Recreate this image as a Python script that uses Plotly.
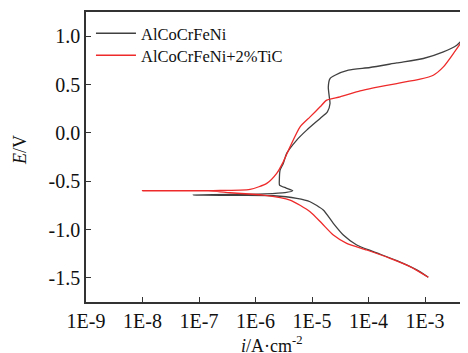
import plotly.graph_objects as go

# AlCoCrFeNi polarization curve (current density A/cm^2, potential V)
black_i = [1.14e-3, 7.13e-4, 3.16e-4, 1.22e-4, 6.18e-5, 3.58e-5, 2.38e-5, 1.58e-5, 9.23e-6, 5.36e-6,
           2.07e-6, 5.32e-7, 7.92e-8, 3.54e-7, 1.47e-6, 3.33e-6, 4.55e-6, 3.47e-6, 2.66e-6, 2.64e-6,
           2.72e-6, 3.10e-6, 3.56e-6, 5.36e-6, 8.05e-6, 1.39e-5, 1.87e-5, 2.08e-5, 2.02e-5, 1.94e-5,
           2.08e-5, 2.55e-5, 4.40e-5, 1.06e-4, 3.16e-4, 9.33e-4, 2.11e-3, 3.64e-3, 5.10e-3]
black_E = [-1.494, -1.418, -1.322, -1.229, -1.160, -1.057, -0.936, -0.799, -0.713, -0.678,
           -0.651, -0.647, -0.644, -0.638, -0.631, -0.618, -0.599, -0.571, -0.540, -0.489,
           -0.385, -0.316, -0.213, -0.075, 0.028, 0.149, 0.217, 0.304, 0.372, 0.475,
           0.562, 0.596, 0.648, 0.676, 0.723, 0.769, 0.837, 0.906, 0.992]

# AlCoCrFeNi+2%TiC polarization curve
red_i = [1.14e-3, 5.43e-4, 2.40e-4, 9.29e-5, 4.11e-5, 2.38e-5, 1.49e-5, 9.23e-6, 4.08e-6, 1.37e-6,
         3.54e-7, 1.77e-7, 1.0e-8, 1.77e-7, 8.0e-7, 1.58e-6, 2.37e-6, 3.10e-6, 4.08e-6, 6.14e-6,
         9.23e-6, 1.39e-5, 1.82e-5, 3.13e-5, 7.08e-5, 1.22e-4, 3.16e-4, 8.17e-4, 1.40e-3, 2.11e-3,
         3.17e-3, 5.10e-3]
red_E = [-1.494, -1.384, -1.298, -1.212, -1.143, -1.057, -0.936, -0.816, -0.695, -0.644,
         -0.620, -0.602, -0.599, -0.597, -0.585, -0.523, -0.419, -0.300, -0.145, 0.062,
         0.165, 0.269, 0.338, 0.372, 0.434, 0.465, 0.510, 0.555, 0.596, 0.682,
         0.820, 0.992]

x_tickvals = [1e-9, 1e-8, 1e-7, 1e-6, 1e-5, 1e-4, 1e-3]
x_ticktext = ["1E-9", "1E-8", "1E-7", "1E-6", "1E-5", "1E-4", "1E-3"]
y_tickvals = [-1.5, -1.0, -0.5, 0.0, 0.5, 1.0]
y_ticktext = ["-1.5", "-1.0", "-0.5", "0.0", "0.5", "1.0"]

FONT = "Times New Roman"
AX = "#333333"
TXT = "#111111"

fig = go.Figure()
fig.add_trace(go.Scatter(x=black_i, y=black_E, mode="lines", name="AlCoCrFeNi", legend="legend",
                         line=dict(color="#404040", width=1.3, shape="spline", smoothing=0.6)))
fig.add_trace(go.Scatter(x=red_i, y=red_E, mode="lines", name="AlCoCrFeNi+2%TiC", legend="legend2",
                         line=dict(color="#ee2a2a", width=1.3, shape="spline", smoothing=0.6)))

leg_common = dict(x=0.013, xanchor="left", yanchor="middle",
                  font=dict(family=FONT, size=16.5, color=TXT),
                  bgcolor="rgba(0,0,0,0)", itemwidth=40)

# page body adds an 8px offset; figure is sized so the plot lands at x 86..468, y 12..302
fig.update_layout(
    width=460, height=345,
    margin=dict(l=78, r=0, t=4, b=51, autoexpand=False),
    paper_bgcolor="white", plot_bgcolor="white",
    font=dict(family=FONT, color=TXT, size=20),
    showlegend=True,
    legend=dict(y=(302 - 33.5) / 290, **leg_common),
    legend2=dict(y=(302 - 55.5) / 290, **leg_common),
    xaxis=dict(type="log", range=[-9, -2.24], tickvals=x_tickvals, ticktext=x_ticktext,
               showgrid=False, zeroline=False, showline=True, linecolor=AX, linewidth=1.5,
               mirror=True, ticks="inside", ticklen=5, tickwidth=1.2, tickcolor=AX,
               tickfont=dict(family=FONT, size=20, color=TXT), automargin=False),
    yaxis=dict(range=[-1.75, 1.25], tickvals=y_tickvals, ticktext=y_ticktext,
               showgrid=False, zeroline=False, showline=True, linecolor=AX, linewidth=1.5,
               mirror=False, ticks="inside", ticklen=5, tickwidth=1.2, tickcolor=AX,
               tickfont=dict(family=FONT, size=20, color=TXT), automargin=False),
    annotations=[
        dict(text="<i>i</i>/A·cm<sup>-2</sup>", xref="paper", yref="paper",
             x=(272 - 86) / 382, y=-(344 - 302) / 290, xanchor="center", yanchor="middle",
             showarrow=False, font=dict(family=FONT, size=18, color=TXT)),
        dict(text="<i>E</i>/V", xref="paper", yref="paper", textangle=-90,
             x=-(86 - 20) / 382, y=(302 - 150) / 290, xanchor="center", yanchor="middle",
             showarrow=False, font=dict(family=FONT, size=18, color=TXT)),
    ],
)

fig.write_html("out.html")
